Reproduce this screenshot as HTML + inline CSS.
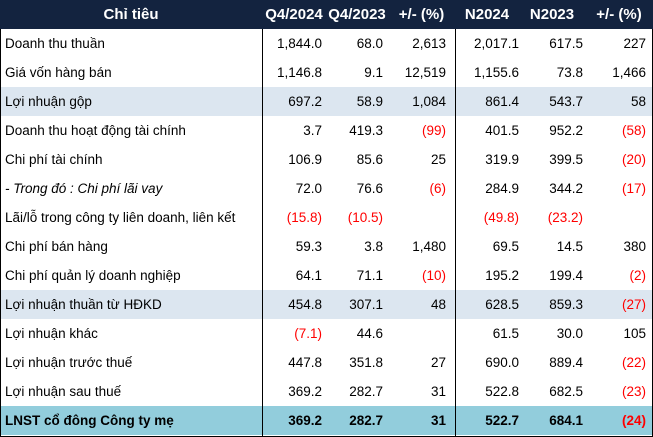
<!DOCTYPE html>
<html><head><meta charset="utf-8"><style>
body{margin:0;background:#fff;}
.t{position:relative;width:653px;height:437px;font-family:"Liberation Sans",sans-serif;font-size:13.5px;color:#000;overflow:hidden}
.hd{position:absolute;left:0;top:0;width:653px;height:29px;background:#13233F;color:#fff;font-weight:bold;font-size:15px}
.row{position:absolute;left:0;width:653px;height:29px}
.c{position:absolute;top:0;line-height:29px;white-space:nowrap}
.r{color:#f00}
.vl{position:absolute;top:29px;width:1px;height:408px;background:#000}
</style></head><body><div class="t">
<div class="hd">
<span class="c" style="left:0;width:262px;text-align:center">Chỉ tiêu</span>
<span class="c" style="left:262px;width:64px;text-align:center">Q4/2024</span>
<span class="c" style="left:326px;width:62px;text-align:center">Q4/2023</span>
<span class="c" style="left:388px;width:67px;text-align:center">+/- (%)</span>
<span class="c" style="left:455px;width:64px;text-align:center">N2024</span>
<span class="c" style="left:519px;width:66px;text-align:center">N2023</span>
<span class="c" style="left:585px;width:68px;text-align:center">+/- (%)</span>
</div>
<div id="body"></div>
<div class="vl" style="left:0"></div>
<div class="vl" style="left:262px"></div>
<div class="vl" style="left:455px"></div>
<div class="vl" style="left:652px"></div>
<div style="position:absolute;left:0;top:436px;width:653px;height:1px;background:#000"></div>
</div>
<script>
var d=[
["Doanh thu thuần","1,844.0","68.0","2,613","2,017.1","617.5","227",0],
["Giá vốn hàng bán","1,146.8","9.1","12,519","1,155.6","73.8","1,466",0],
["Lợi nhuận gộp","697.2","58.9","1,084","861.4","543.7","58",1],
["Doanh thu hoạt động tài chính","3.7","419.3","(99)","401.5","952.2","(58)",0],
["Chi phí tài chính","106.9","85.6","25","319.9","399.5","(20)",0],
["<i>- Trong đó : Chi phí lãi vay</i>","72.0","76.6","(6)","284.9","344.2","(17)",0],
["Lãi/lỗ trong công ty liên doanh, liên kết","(15.8)","(10.5)","","(49.8)","(23.2)","",0],
["Chi phí bán hàng","59.3","3.8","1,480","69.5","14.5","380",0],
["Chi phí quản lý doanh nghiệp","64.1","71.1","(10)","195.2","199.4","(2)",0],
["Lợi nhuận thuần từ HĐKD","454.8","307.1","48","628.5","859.3","(27)",1],
["Lợi nhuận khác","(7.1)","44.6","","61.5","30.0","105",0],
["Lợi nhuận trước thuế","447.8","351.8","27","690.0","889.4","(22)",0],
["Lợi nhuận sau thuế","369.2","282.7","31","522.8","682.5","(23)",0],
["LNST cổ đông Công ty mẹ","369.2","282.7","31","522.7","684.1","(24)",2]];
var R=[322,383,446,519,583,646],h="";
d.forEach(function(x,i){
var bg=x[7]==1?"#DCE6F0":x[7]==2?"#92CDDC":"#fff";
h+='<div class="row" style="top:'+(29+i*29)+'px;background:'+bg+(x[7]==2?';font-weight:bold':'')+'">';
h+='<span class="c" style="left:5px">'+x[0]+'</span>';
for(var j=1;j<7;j++){var v=x[j];h+='<span class="c'+(v.charAt(0)=="("?" r":"")+'" style="right:'+(653-R[j-1])+'px">'+v+'</span>';}
h+='</div>';});
document.getElementById("body").innerHTML=h;
</script>
</body></html>
